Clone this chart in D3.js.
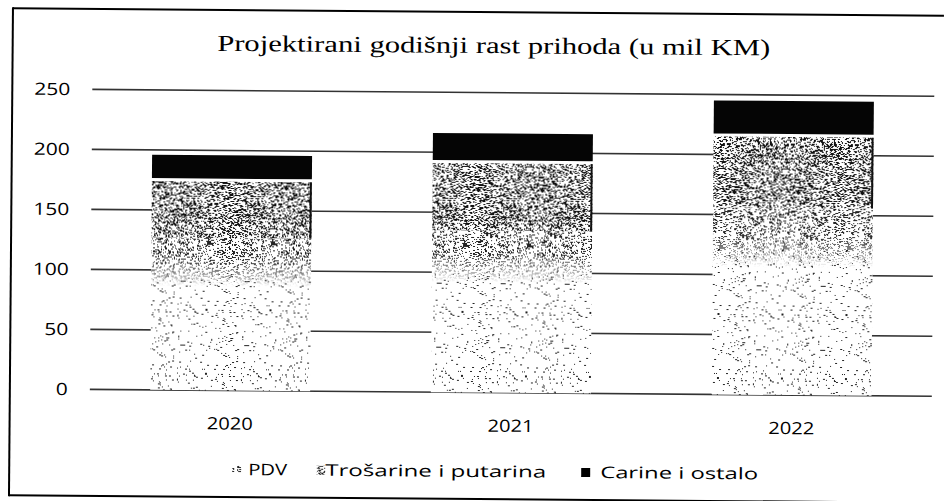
<!DOCTYPE html>
<html>
<head>
<meta charset="utf-8">
<script src="https://cdnjs.cloudflare.com/ajax/libs/d3/7.8.5/d3.min.js"></script>
<style>
	html, body { margin: 0; padding: 0; background: #fff; overflow: hidden; }
	svg { display: block; }
</style>
</head>
<body>
<div id="chart"></div>
<script>
// data (mil KM)
var years = ['2020', '2021', '2022'];
var pdv = [127, 135, 156];
var trosarine = [47, 56, 59];
var carine = [22, 25, 30];
var seriesNames = ['PDV', 'Trošarine i putarina', 'Carine i ostalo'];
var yTicks = [0, 50, 100, 150, 200, 250];
var chartTitle = 'Projektirani godišnji rast prihoda (u mil KM)';

var W = 950, H = 501;
var margin = { top: 92.5, right: 17, bottom: 108.5, left: 91 };
var tilt = 0.47; // the scan is slightly rotated

var rows = years.map(function (y, i) {
	return { year: y, pdv: pdv[i], tros: trosarine[i], car: carine[i] };
});
var keys = ['pdv', 'tros', 'car'];
var stacked = d3.stack().keys(keys)(rows);

var svg = d3.select('#chart').append('svg')
	.attr('width', W)
	.attr('height', H)
	.style('overflow', 'hidden');

var defs = svg.append('defs');

// speckle textures, made from a fixed hash so every render is the same
function hash(i, j, s) {
	var h = Math.imul(i + 1, 73856093) ^ Math.imul(j + 7, 19349663) ^ Math.imul(s, 83492791);
	h = Math.imul(h ^ (h >>> 13), 1274126177);
	return ((h ^ (h >>> 16)) >>> 0) % 1000 / 1000;
}
function speckle(id, size, density, seed, color) {
	var p = defs.append('pattern')
		.attr('id', id)
		.attr('patternUnits', 'userSpaceOnUse')
		.attr('width', size)
		.attr('height', size);
	p.append('rect').attr('width', size).attr('height', size).attr('fill', '#fff');
	for (var j = 0; j < size; j++) {
		for (var i = 0; i < size; i++) {
			if (hash(i, j, seed) < density) {
				p.append('rect')
					.attr('x', i).attr('y', j)
					.attr('width', hash(j, i, seed + 3) < 0.4 ? 2 : 1)
					.attr('height', 1)
					.attr('fill', color);
			}
		}
	}
}
speckle('pat-pdv', 64, 0.035, 1, '#222');
speckle('pat-pdv-top', 64, 0.2, 2, '#222');
speckle('pat-tros', 64, 0.3, 3, '#111');

// the upper part of the PDV block is darker in the print
var grad = defs.append('linearGradient')
	.attr('id', 'fade')
	.attr('x1', 0).attr('y1', 0).attr('x2', 0).attr('y2', 1);
grad.append('stop').attr('offset', 0).attr('stop-color', '#fff');
grad.append('stop').attr('offset', 0.14).attr('stop-color', '#fff');
grad.append('stop').attr('offset', 0.32).attr('stop-color', '#000');
grad.append('stop').attr('offset', 1).attr('stop-color', '#000');
defs.append('mask')
	.attr('id', 'fadeMask')
	.attr('maskContentUnits', 'objectBoundingBox')
	.append('rect')
	.attr('width', 1).attr('height', 1)
	.attr('fill', 'url(#fade)');

var root = svg.append('g')
	.attr('transform', 'rotate(' + tilt + ',' + W / 2 + ',' + H / 2 + ')');

// outer frame: only left, top and bottom edges show in the scan
var frame = root.append('g')
	.attr('stroke', '#000')
	.attr('stroke-width', 2);
frame.append('line').attr('x1', 11).attr('y1', 12).attr('x2', W - 8).attr('y2', 12);
frame.append('line').attr('x1', 11).attr('y1', 11).attr('x2', 11).attr('y2', 500);
frame.append('line').attr('x1', 11).attr('y1', 499).attr('x2', W - 8).attr('y2', 499);

var x = d3.scaleBand()
	.domain(years)
	.range([margin.left, W - margin.right])
	.paddingInner(0.43)
	.paddingOuter(0.215);

var y = d3.scaleLinear()
	.domain([0, 250])
	.range([H - margin.bottom, margin.top]);

// gridlines
root.append('g')
	.selectAll('line')
	.data(yTicks)
	.join('line')
	.attr('x1', margin.left)
	.attr('x2', W - margin.right)
	.attr('y1', function (d) { return y(d); })
	.attr('y2', function (d) { return y(d); })
	.attr('stroke', '#333')
	.attr('stroke-width', 1.6);

// y axis labels
var yAxis = root.append('g')
	.attr('transform', 'translate(' + (margin.left - 22) + ',0)')
	.call(d3.axisLeft(y).tickValues(yTicks).tickSize(0).tickPadding(0));
yAxis.select('.domain').remove();
yAxis.selectAll('text')
	.attr('font-family', 'Open Sans, sans-serif')
	.attr('font-size', 17)
	.attr('fill', '#000')
	.attr('textLength', function (d) { return String(d).length * 12; })
	.attr('lengthAdjust', 'spacingAndGlyphs');

// x axis labels
var xAxis = root.append('g')
	.attr('transform', 'translate(0,' + (H - margin.bottom) + ')')
	.call(d3.axisBottom(x).tickSize(0).tickPadding(27));
xAxis.select('.domain').remove();
xAxis.selectAll('text')
	.attr('font-family', 'Open Sans, sans-serif')
	.attr('font-size', 17)
	.attr('fill', '#000')
	.attr('textLength', 46)
	.attr('lengthAdjust', 'spacingAndGlyphs');

// bars
var fills = { pdv: 'url(#pat-pdv)', tros: 'url(#pat-tros)', car: '#050505' };
var gap = { pdv: 0, tros: 0, car: 3 };

var layers = root.append('g').selectAll('g')
	.data(stacked)
	.join('g')
	.attr('fill', function (s) { return fills[s.key]; });

layers.selectAll('rect')
	.data(function (s) { return s.map(function (d) { d.key = s.key; return d; }); })
	.join('rect')
	.attr('x', function (d) { return x(d.data.year); })
	.attr('width', x.bandwidth())
	.attr('y', function (d) { return y(d[1]); })
	.attr('height', function (d) { return y(d[0]) - y(d[1]) - gap[d.key]; });

// darker halftone near the top of the PDV block
root.append('g').selectAll('rect')
	.data(stacked[0])
	.join('rect')
	.attr('x', function (d) { return x(d.data.year); })
	.attr('width', x.bandwidth())
	.attr('y', function (d) { return y(d[1]); })
	.attr('height', function (d) { return y(d[0]) - y(d[1]); })
	.attr('fill', 'url(#pat-pdv-top)')
	.attr('mask', 'url(#fadeMask)');

// dark right edge of the excise block
root.append('g').selectAll('line')
	.data(stacked[1])
	.join('line')
	.attr('x1', function (d) { return x(d.data.year) + x.bandwidth() - 1; })
	.attr('x2', function (d) { return x(d.data.year) + x.bandwidth() - 1; })
	.attr('y1', function (d) { return y(d[1]); })
	.attr('y2', function (d) { return y(d[0]); })
	.attr('stroke', '#111')
	.attr('stroke-width', 2);

// title
root.append('text')
	.attr('x', 492)
	.attr('y', 53)
	.attr('text-anchor', 'middle')
	.attr('font-family', 'Liberation Serif, Times New Roman, serif')
	.attr('font-size', 23)
	.attr('fill', '#000')
	.attr('textLength', 553)
	.attr('lengthAdjust', 'spacingAndGlyphs')
	.text(chartTitle);

// legend (widths follow the stretched scan)
var legendX = [234, 318, 583];
var legendTextW = [39, 221, 158];
var markerFills = ['url(#pat-pdv-top)', 'url(#pat-tros)', '#000'];
var items = root.append('g').selectAll('g')
	.data(seriesNames)
	.join('g')
	.attr('transform', function (d, i) { return 'translate(' + legendX[i] + ',477)'; });
items.append('rect')
	.attr('width', 9)
	.attr('height', 9)
	.attr('y', -10)
	.attr('fill', function (d, i) { return markerFills[i]; });
items.append('text')
	.attr('x', function (d, i) { return i === 2 ? 19 : (i === 0 ? 16 : 9); })
	.attr('font-family', 'Open Sans, sans-serif')
	.attr('font-size', 16)
	.attr('fill', '#000')
	.attr('textLength', function (d, i) { return legendTextW[i]; })
	.attr('lengthAdjust', 'spacingAndGlyphs')
	.text(function (d) { return d; });
</script>
</body>
</html>
